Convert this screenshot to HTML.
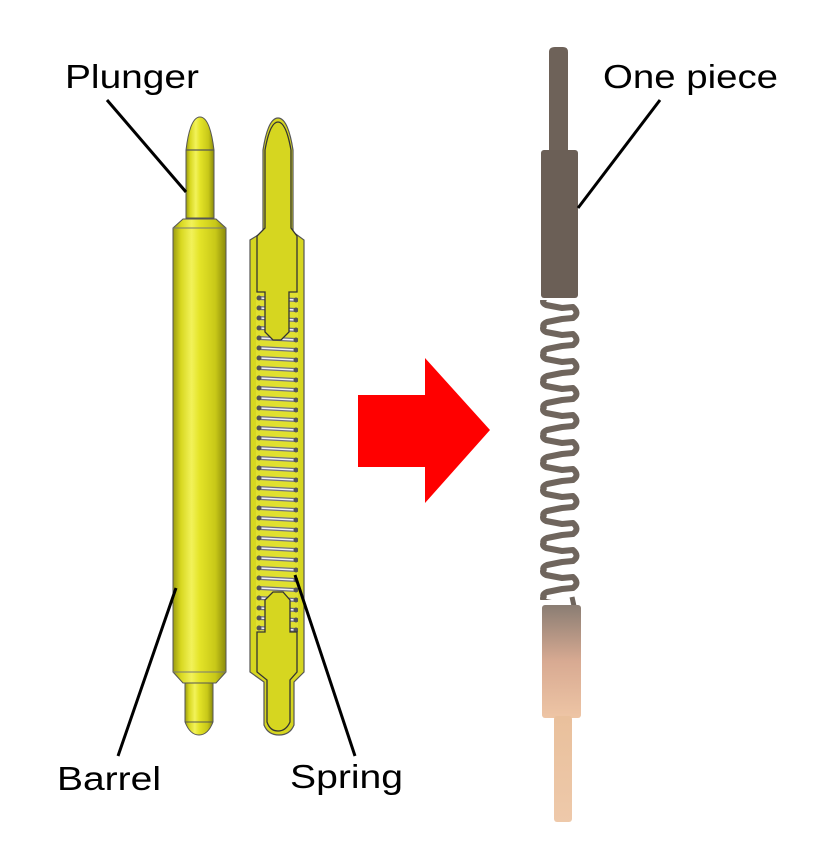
<!DOCTYPE html>
<html><head><meta charset="utf-8"><style>
html,body{margin:0;padding:0;background:#fff;}
svg{display:block;}
text{font-family:"Liberation Sans",sans-serif;font-size:33px;fill:#000;}
</style></head><body>
<svg width="829" height="856" viewBox="0 0 829 856" xmlns="http://www.w3.org/2000/svg">
<defs>
<linearGradient id="yl" x1="0" x2="1" y1="0" y2="0">
<stop offset="0" stop-color="#9a9a10"/><stop offset="0.15" stop-color="#d8d820"/><stop offset="0.35" stop-color="#f2f25a"/><stop offset="0.5" stop-color="#e4e428"/><stop offset="0.8" stop-color="#c8c818"/><stop offset="1" stop-color="#8a8a0c"/>
</linearGradient>
<linearGradient id="lower" x1="0" x2="0" y1="0" y2="1">
<stop offset="0" stop-color="#8a7d73"/><stop offset="0.5" stop-color="#d8aa92"/><stop offset="1" stop-color="#eec5a5"/>
</linearGradient>
<linearGradient id="pin" x1="0" x2="0" y1="0" y2="1">
<stop offset="0" stop-color="#e9c09c"/><stop offset="1" stop-color="#eec9aa"/>
</linearGradient>
<pattern id="spr" x="0" y="335" width="60" height="10" patternUnits="userSpaceOnUse">
<rect width="60" height="10" fill="#e0e030"/>
<line x1="19" y1="3" x2="56" y2="5" stroke="#707080" stroke-width="4"/>
<line x1="19" y1="3" x2="56" y2="5" stroke="#f0f0f8" stroke-width="1.5"/>
<circle cx="19" cy="3" r="2.5" fill="#555"/><circle cx="56" cy="5" r="2.5" fill="#555"/>
</pattern>
<pattern id="zz" x="0" y="300" width="60" height="27" patternUnits="userSpaceOnUse">
<path d="M6,-3 Q0,2 6,5 L22,8 L33,7 Q40,13 33,18 L22,19 L7,22 Q0,25 6,30" fill="none" stroke="#6f655d" stroke-width="6" stroke-linejoin="round"/>
</pattern>
</defs>

<!-- left pin -->
<path d="M186,218 L186,150 Q190,117 200,117 Q210,117 214,150 L214,218 Z" fill="url(#yl)" stroke="#555" stroke-width="1"/>
<line x1="186" y1="150" x2="214" y2="150" stroke="#555" stroke-width="1.2"/>
<path d="M185,683 L213,683 L213,722 Q208,735 199,735 Q190,735 185,722 Z" fill="url(#yl)" stroke="#555" stroke-width="1"/>
<line x1="185" y1="722" x2="213" y2="722" stroke="#555"/>
<path d="M183,219 L216,219 L226,228 L226,672 L216,683 L183,683 L173,672 L173,228 Z" fill="url(#yl)" stroke="#555" stroke-width="1"/>
<line x1="173" y1="228" x2="226" y2="228" stroke="#777"/>
<line x1="173" y1="672" x2="226" y2="672" stroke="#777"/>

<!-- right sectioned pin -->
<path d="M263,232 L263,150 Q268,118 278,118 Q288,118 293,150 L293,232 L304,240 L304,672 L294,682 L294,725 Q290,735 279,735 Q268,735 264,725 L264,682 L250,672 L250,240 Z" fill="#d6d620" stroke="#555" stroke-width="1.2"/>
<rect x="256" y="292" width="42" height="340" fill="url(#spr)"/>
<path d="M265,228 L265,150 Q270,122 278,122 Q286,122 291,150 L291,228 L297,236 L297,292 L289,292 L289,332 L281,340 L273,340 L265,332 L265,292 L257,292 L257,236 Z" fill="#d6d620" stroke="#333" stroke-width="1.3"/>
<path d="M265,600 L273,592 L283,592 L290,600 L290,632 L297,632 L297,672 L290,680 L290,722 Q286,731 278,731 Q270,731 267,722 L267,680 L257,672 L257,632 L265,632 Z" fill="#d6d620" stroke="#333" stroke-width="1.3"/>

<!-- arrow -->
<polygon points="358,395 425,395 425,358 490,430 425,503 425,467 358,467" fill="#ff0000"/>

<!-- one piece -->
<path d="M549,52 Q549,47 555,47 L563,47 Q568,47 568,52 L568,150 L549,150 Z" fill="#6e6259"/>
<rect x="541" y="150" width="37" height="148" rx="3" fill="#6b5f56"/>
<rect x="538" y="300" width="46" height="300" fill="url(#zz)"/>
<path d="M572,597 L574,606" stroke="#6f655d" stroke-width="5"/>
<rect x="542" y="605" width="39" height="113" rx="3" fill="url(#lower)"/>
<rect x="554" y="716" width="18" height="106" rx="3" fill="url(#pin)"/>

<!-- leader lines -->
<g stroke="#000" stroke-width="3">
<line x1="107" y1="100" x2="186" y2="192"/>
<line x1="660" y1="100" x2="578" y2="208"/>
<line x1="118" y1="756" x2="176" y2="588"/>
<line x1="355" y1="756" x2="295" y2="575"/>
</g>

<text x="65" y="88" textLength="134" lengthAdjust="spacingAndGlyphs">Plunger</text>
<text x="603" y="88" textLength="175" lengthAdjust="spacingAndGlyphs">One piece</text>
<text x="57" y="790" textLength="104" lengthAdjust="spacingAndGlyphs">Barrel</text>
<text x="290" y="788" textLength="113" lengthAdjust="spacingAndGlyphs">Spring</text>
</svg>
</body></html>
